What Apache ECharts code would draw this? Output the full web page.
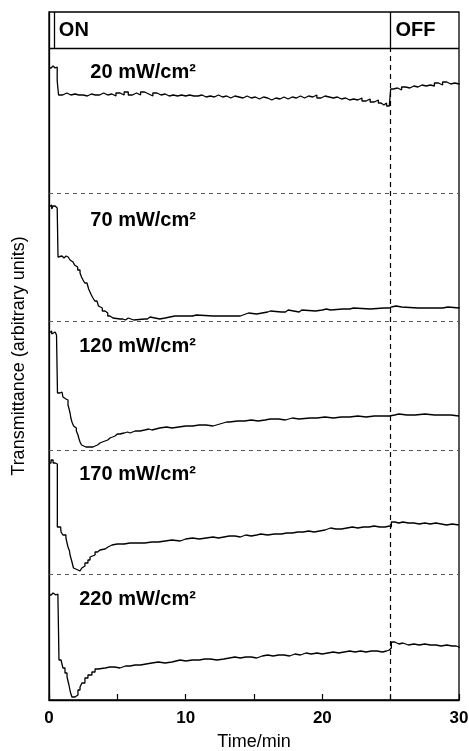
<!DOCTYPE html>
<html>
<head>
<meta charset="utf-8">
<script src="https://cdn.jsdelivr.net/npm/echarts@6/dist/echarts.min.js"></script>
<style>
  html, body { margin: 0; padding: 0; background: #fff; }
  #chart { width: 469px; height: 751px; }
</style>
</head>
<body>
<div id="chart"></div>
<script>
// Irradiance of each trace, top to bottom
const powers = ['20 mW/cm²', '70 mW/cm²', '120 mW/cm²', '170 mW/cm²', '220 mW/cm²'];

// Transmittance traces: [time (min), transmittance (arb. units, above the panel baseline)]
const trace20 = [
  [0,125],[0.15,127],[0.3,125],[0.45,126],[0.6,112],[0.7,98],[1.0,100],[1.3,98],[1.6,99],[1.9,98],
  [2.2,98],[2.5,97],[2.8,99],[3.1,98],[3.4,98],[3.7,100],[4.0,98],[4.3,99],[4.6,97],[4.9,100],
  [5.2,98],[5.5,101],[5.8,98],[6.1,100],[6.4,98],[6.7,101],[7.0,99],[7.3,97],[7.6,100],[7.9,98],
  [8.2,99],[8.5,97],[8.8,98],[9.1,97],[9.4,98],[9.7,97],[10.0,98],[10.3,97],[10.6,97],[10.9,98],
  [11.2,96],[11.5,97],[11.8,96],[12.1,98],[12.4,96],[12.7,97],[13.0,95],[13.3,97],[13.6,96],[13.9,95],
  [14.2,97],[14.5,95],[14.8,96],[15.1,94],[15.4,96],[15.7,95],[16.0,93],[16.3,95],[16.6,94],[16.9,96],
  [17.2,94],[17.5,96],[17.8,95],[18.1,97],[18.4,95],[18.7,97],[19.0,96],[19.3,98],[19.6,95],[19.9,97],
  [20.2,96],[20.5,95],[20.8,96],[21.1,94],[21.4,95],[21.7,93],[22.0,94],[22.3,93],[22.6,95],[22.9,92],
  [23.2,94],[23.5,91],[23.8,93],[24.1,90],[24.3,88],[24.5,90],[24.7,87],[24.9,86],[25.0,104],[25.2,105],
  [25.5,103],[25.8,106],[26.1,105],[26.4,107],[26.7,106],[27.0,108],[27.3,107],[27.6,108],[27.9,107],[28.2,110],
  [28.5,108],[28.8,111],[29.1,109],[29.4,110],[29.7,109],[30.0,110]
];
const trace70 = [
  [0,114],[0.1,116],[0.2,112],[0.3,115],[0.45,113],[0.6,112],[0.66,64],[0.8,65],[0.95,63],[1.1,65],
  [1.25,64],[1.4,62],[1.54,61],[1.65,59],[1.76,58],[1.87,56],[1.98,54],[2.1,51],[2.27,48],[2.38,44],
  [2.49,41],[2.62,38],[2.78,36],[2.9,32],[3.0,29],[3.1,26],[3.22,23],[3.35,20],[3.51,18],[3.62,15],
  [3.73,13],[3.9,10],[4.1,8],[4.3,5],[4.46,3],[4.68,2],[5.2,2],[5.4,1],[5.6,3],[5.8,1],
  [6.2,2],[7.0,2],[7.2,4],[7.4,2],[8.1,3],[8.5,5],[9.2,5],[10.0,5],[10.5,6],[10.8,5],
  [12.0,5],[13.0,5],[14.0,6],[14.2,8],[14.6,7],[15.2,8],[15.6,9],[16.0,10],[16.2,9],[17.0,9],
  [17.3,11],[17.5,9],[18.3,11],[18.5,10],[19.5,11],[20.0,12],[20.3,11],[20.6,12],[21.5,12],[22.0,13],
  [22.3,12],[23.5,13],[24.5,13],[24.9,14],[25.05,15],[25.4,14],[25.8,13],[27.0,13],[28.0,13],[28.8,14],
  [29.2,13],[30,14]
];
const trace120 = [
  [0,117],[0.1,119],[0.2,116],[0.3,118],[0.45,117],[0.55,115],[0.62,57],[0.8,58],[0.95,56],[1.02,53],
  [1.12,51],[1.24,50],[1.39,45],[1.47,41],[1.54,37],[1.6,32],[1.68,28],[1.8,24],[1.9,22],[2.0,19],
  [2.12,15],[2.2,11],[2.27,8],[2.38,5],[2.49,3],[2.7,3],[3.0,3],[3.22,3],[3.3,4],[3.37,5],
  [3.55,7],[3.73,8],[3.9,9],[4.1,10],[4.3,12],[4.46,13],[4.65,14],[4.83,16],[5.0,16],[5.19,17],
  [5.5,18],[5.75,17],[5.93,19],[6.3,19],[6.66,20],[7.0,21],[7.3,20],[7.53,22],[8.1,23],[8.6,22],
  [9.0,23],[9.5,24],[10.0,24],[10.5,25],[11.0,25],[11.5,24],[12.0,26],[12.5,28],[13.0,28],[13.2,29],
  [13.8,29],[14.3,30],[14.8,29],[15.3,30],[15.8,31],[16.2,31],[16.8,30],[17.3,32],[17.8,31],[18.3,32],
  [19.1,32],[19.6,33],[20.2,32],[20.8,33],[21.4,33],[22.0,34],[22.6,33],[23.2,34],[23.8,34],[24.4,34],
  [24.9,33],[25.0,35],[25.3,36],[25.6,35],[26.2,35],[26.8,36],[27.5,35],[28.2,35],[28.8,35],[29.4,34],
  [30,34]
];
const trace170 = [
  [0,111],[0.15,114],[0.3,111],[0.45,112],[0.55,110],[0.61,47],[0.75,47],[0.85,47],[0.88,42],[1.02,39],
  [1.24,36],[1.32,31],[1.39,27],[1.5,23],[1.54,19],[1.62,15],[1.68,12],[1.79,6],[1.9,4],[2.12,3],
  [2.27,3],[2.4,6],[2.49,8],[2.63,11],[2.85,14],[3.0,17],[3.14,19],[3.37,22],[3.55,24],[3.73,25],
  [4.1,27],[4.32,29],[4.61,30],[5.0,30],[5.5,31],[5.93,31],[6.5,31],[7.0,32],[7.53,32],[8.0,33],
  [8.5,34],[9.0,33],[9.6,35],[10.0,36],[10.5,35],[11.0,36],[11.5,37],[12.0,36],[12.4,37],[12.8,38],
  [13.2,38],[13.6,37],[14.0,39],[14.4,38],[14.8,39],[15.2,40],[15.5,39],[16.0,40],[16.5,40],[17.0,41],
  [17.4,41],[17.8,42],[18.2,42],[18.6,43],[19.0,42],[19.4,43],[19.8,44],[20.2,46],[20.6,45],[21.0,45],
  [21.4,46],[21.8,47],[22.2,46],[22.6,47],[23.0,47],[23.4,48],[23.8,47],[24.2,47],[24.6,48],[24.9,47],
  [25.05,52],[25.3,51],[25.6,52],[25.9,51],[26.3,51],[26.7,50],[27.1,51],[27.5,50],[27.9,51],[28.3,50],
  [28.7,49],[29.1,50],[29.5,49],[30,49]
];
const trace220 = [
  [0,105],[0.15,107],[0.3,105],[0.5,106],[0.65,105],[0.73,40],[0.88,40],[1.02,32],[1.17,27],[1.32,23],
  [1.46,15],[1.56,8],[1.68,3],[1.9,3],[1.98,5],[2.12,10],[2.27,13],[2.41,17],[2.63,22],[2.85,25],
  [3.14,28],[3.37,31],[3.6,31],[3.73,32],[4.1,33],[4.46,33],[4.8,32],[5.19,34],[5.6,34],[5.93,35],
  [6.3,35],[6.7,36],[7.1,37],[7.53,38],[8.0,37],[8.5,38],[9.0,39],[9.3,40],[9.6,39],[10.0,40],
  [10.5,40],[11.0,41],[11.4,41],[11.8,40],[12.3,41],[12.8,42],[13.2,43],[13.6,42],[14.0,43],[14.4,43],
  [14.8,42],[15.2,44],[15.6,45],[16.0,44],[16.4,45],[16.8,45],[17.2,44],[17.6,46],[18.0,45],[18.4,47],
  [18.8,46],[19.2,47],[19.6,46],[20.0,47],[20.4,48],[20.8,47],[21.2,48],[21.6,49],[22.0,48],[22.4,49],
  [22.8,48],[23.2,49],[23.6,49],[24.0,48],[24.4,49],[24.7,50],[24.9,52],[25.05,58],[25.3,56],[25.6,57],
  [25.9,55],[26.3,56],[26.7,55],[27.1,56],[27.5,55],[27.9,55],[28.3,54],[28.7,55],[29.1,54],[29.5,54],
  [29.8,53],[30,52]
];
const traces = [trace20, trace70, trace120, trace170, trace220];

// Light on/off switching times (min) and header text
const switchOn = 0.35;
const switchOff = 25;
const phaseLabels = ['ON', 'OFF'];

// Axis
const xTicks = [0, 5, 10, 15, 20, 25, 30];
const xLabelled = [0, 10, 20, 30];

// Vertical stacking of the panels (baseline of each trace, top to bottom)
const panelBase = [507, 379, 250, 126, 0];
const plotTop = 652;      // bottom of the ON/OFF header band
const headerTop = 688;    // top of the frame

const FONT = '"Liberation Sans", Arial, Helvetica, sans-serif';

const traceSeries = traces.map((tr, i) => ({
  type: 'line',
  name: powers[i],
  step: 'end',
  symbol: 'none',
  silent: true,
  lineStyle: { color: '#000', width: 1.3 },
  data: tr.map(p => [p[0], p[1] + panelBase[i]])
}));

// Dashed separators between the panels and the light-off marker
const guideLines = [];
for (let i = 0; i < panelBase.length - 1; i++) {
  guideLines.push([{ coord: [0, panelBase[i]] }, { coord: [30, panelBase[i]],
    lineStyle: { color: '#555', type: [4, 4], width: 1.1 } }]);
}
guideLines.push([{ coord: [switchOff, 0] }, { coord: [switchOff, plotTop],
  lineStyle: { color: '#000', type: [5, 4], width: 1.2 } }]);
// Header band: bottom rule and solid dividers
guideLines.push([{ coord: [0, plotTop] }, { coord: [30, plotTop],
  lineStyle: { color: '#000', type: 'solid', width: 1.3 } }]);
guideLines.push([{ coord: [switchOff, plotTop] }, { coord: [switchOff, headerTop],
  lineStyle: { color: '#000', type: 'solid', width: 1.3 } }]);
guideLines.push([{ coord: [switchOn, plotTop] }, { coord: [switchOn, headerTop],
  lineStyle: { color: '#000', type: 'solid', width: 1.3 } }]);

const guideSeries = {
  type: 'line',
  data: [],
  silent: true,
  markLine: {
    symbol: 'none',
    silent: true,
    label: { show: false },
    emphasis: { disabled: true },
    data: guideLines
  }
};

const textLabel = (position) => ({
  show: true,
  position: position,
  distance: 0,
  formatter: p => p.value[2],
  color: '#000',
  opacity: 1,
  fontFamily: FONT,
  fontWeight: 'bold',
  fontSize: 20
});

// Irradiance annotations, right-aligned at a common position
const powerLabelX = 10.75;
const powerLabelY = [628, 480, 354, 226, 101];
const powerSeries = {
  type: 'scatter',
  symbolSize: 0,
  silent: true,
  itemStyle: { opacity: 1 },
  data: powers.map((p, i) => [powerLabelX, powerLabelY[i], p]),
  label: textLabel('left')
};

const phaseSeries = {
  type: 'scatter',
  symbolSize: 0,
  silent: true,
  itemStyle: { opacity: 1 },
  data: [[0.72, 670, phaseLabels[0]], [25.35, 670, phaseLabels[1]]],
  label: textLabel('right')
};

const chart = echarts.init(document.getElementById('chart'), null, { renderer: 'canvas' });
chart.setOption({
  animation: false,
  backgroundColor: '#fff',
  grid: {
    left: 49, right: 10, top: 12, bottom: 51,
    outerBoundsMode: 'none',
    containLabel: false,
    show: true, borderColor: '#000', borderWidth: 1.3, backgroundColor: 'transparent'
  },
  xAxis: {
    type: 'value',
    min: 0, max: 30, interval: 5,
    name: 'Time/min',
    nameLocation: 'middle',
    nameGap: 33,
    nameTextStyle: { color: '#000', fontFamily: FONT, fontSize: 18 },
    axisLine: { show: true, onZero: false, lineStyle: { color: '#000', width: 1.3 } },
    axisTick: { show: true, inside: true, length: 6, lineStyle: { color: '#000', width: 1.2 } },
    axisLabel: {
      color: '#000', fontFamily: FONT, fontWeight: 'bold', fontSize: 17, margin: 10,
      formatter: v => (xLabelled.indexOf(v) >= 0 ? String(v) : '')
    },
    splitLine: { show: false }
  },
  yAxis: {
    type: 'value',
    min: 0, max: headerTop,
    name: 'Transmittance (arbitrary units)',
    nameLocation: 'middle',
    nameGap: 21,
    nameTextStyle: { color: '#000', fontFamily: FONT, fontSize: 18 },
    axisLine: { show: true, onZero: false, lineStyle: { color: '#000', width: 1.3 } },
    axisTick: { show: false },
    axisLabel: { show: false },
    splitLine: { show: false }
  },
  series: [guideSeries, ...traceSeries, powerSeries, phaseSeries]
});
</script>
</body>
</html>
